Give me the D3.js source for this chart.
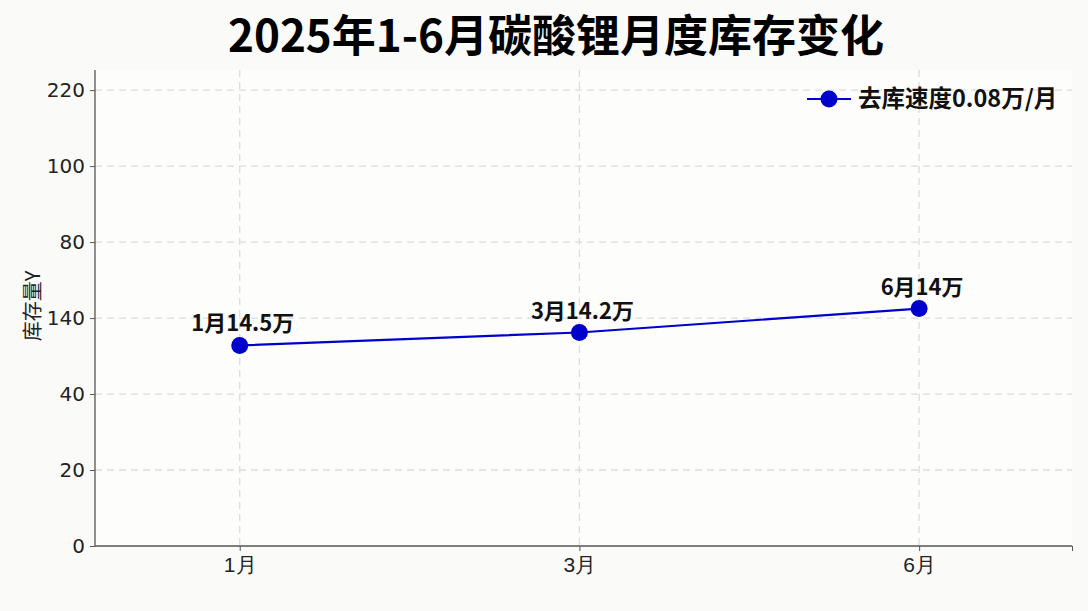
<!DOCTYPE html>
<html><head><meta charset="utf-8">
<script src="https://cdn.jsdelivr.net/npm/d3@7"></script>
<style>
html,body{margin:0;padding:0;background:#fafaf8;}
svg{display:block;font-family:"Noto Sans CJK SC","Noto Sans",sans-serif;}
</style></head>
<body>
<svg id="c" width="1088" height="611"></svg>
<script>
const title = "2025年1-6月碳酸锂月度库存变化";
const categories = ["1月", "3月", "6月"];
const values = [52.8, 56.2, 62.5];           // plotted positions on the axis scale
const pointLabels = ["1月14.5万", "3月14.2万", "6月14万"];
const yTickValues = [0, 20, 40, 60, 80, 100, 120];
const yTickLabels = ["0", "20", "40", "140", "80", "100", "220"];
const yLabel = "库存量Y";
const legendLabel = "去库速度0.08万/月";

const svg = d3.select("#c");
const L = 95, R = 1072, T = 70, B = 546;
const x = d3.scaleLinear().domain([-0.426, 2.45]).range([L, R]);
const y = d3.scaleLinear().domain([0, 125.3]).range([B, T]);
const blue = "#0000cd";

svg.append("rect").attr("x", L).attr("y", T).attr("width", R - L).attr("height", B - T).attr("fill", "#fdfdfc");

// grid
const g = svg.append("g");
g.selectAll(".hg").data(yTickValues.slice(1)).join("line")
  .attr("x1", L).attr("x2", R).attr("y1", d => y(d)).attr("y2", d => y(d))
  .attr("stroke", "#dcdcdc").attr("stroke-width", 1.3).attr("stroke-dasharray", "7,5");
g.selectAll(".vg").data(categories).join("line")
  .attr("x1", (d, i) => x(i)).attr("x2", (d, i) => x(i)).attr("y1", T).attr("y2", B)
  .attr("stroke", "#dcdcdc").attr("stroke-width", 1.3).attr("stroke-dasharray", "7,5");

// axes
const yAxis = d3.axisLeft(y).tickValues(yTickValues).tickSize(5).tickPadding(5)
  .tickFormat((d, i) => yTickLabels[i]);
const ya = svg.append("g").attr("transform", `translate(${L},0)`).call(yAxis);
ya.select(".domain").attr("d", `M-0,${T}V${B}`).attr("stroke", "#555").attr("stroke-width", 1.3);
ya.selectAll(".tick line").attr("stroke", "#555");
ya.selectAll("text").attr("font-size", 20).attr("fill", "#222")
  .attr("font-family", "'DejaVu Sans',sans-serif");

const xAxis = d3.axisBottom(x).tickValues([0, 1, 2, 2.45]).tickSize(5).tickPadding(6)
  .tickFormat((d, i) => categories[i] || "");
const xa = svg.append("g").attr("transform", `translate(0,${B})`).call(xAxis);
xa.select(".domain").attr("d", `M${L},0H${R}`).attr("stroke", "#555").attr("stroke-width", 1.3);
xa.selectAll(".tick line").attr("stroke", "#555");
xa.selectAll("text").attr("font-size", 21).attr("fill", "#222");

// y label
svg.append("text").attr("transform", `translate(40,306) rotate(-90)`)
  .attr("text-anchor", "middle").attr("font-size", 20)
  .attr("fill", "#222").text(yLabel);

// line
const data = values.map((v, i) => ({i, v}));
svg.append("path").datum(data)
  .attr("d", d3.line().x(d => x(d.i)).y(d => y(d.v)))
  .attr("fill", "none").attr("stroke", blue).attr("stroke-width", 2.2);
svg.selectAll(".pt").data(data).join("circle")
  .attr("cx", d => x(d.i)).attr("cy", d => y(d.v)).attr("r", 8.5).attr("fill", blue);
svg.selectAll(".pl").data(data).join("text")
  .attr("x", d => x(d.i) + 3).attr("y", d => y(d.v) - 14)
  .attr("text-anchor", "middle").attr("font-size", 22).attr("font-weight", "bold")
  .attr("fill", "#111").text((d, i) => pointLabels[i]);

// legend
svg.append("line").attr("x1", 807).attr("x2", 851).attr("y1", 99).attr("y2", 99)
  .attr("stroke", blue).attr("stroke-width", 2.2);
svg.append("circle").attr("cx", 829).attr("cy", 99).attr("r", 8.5).attr("fill", blue);
svg.append("text").attr("x", 858).attr("y", 107).attr("font-size", 23.5).attr("font-weight", "bold")
  .attr("fill", "#111").text(legendLabel);

// title
svg.append("text").attr("x", 556).attr("y", 52).attr("text-anchor", "middle")
  .attr("font-size", 44).attr("font-weight", "bold").attr("fill", "#000").text(title);
</script>
</body></html>
